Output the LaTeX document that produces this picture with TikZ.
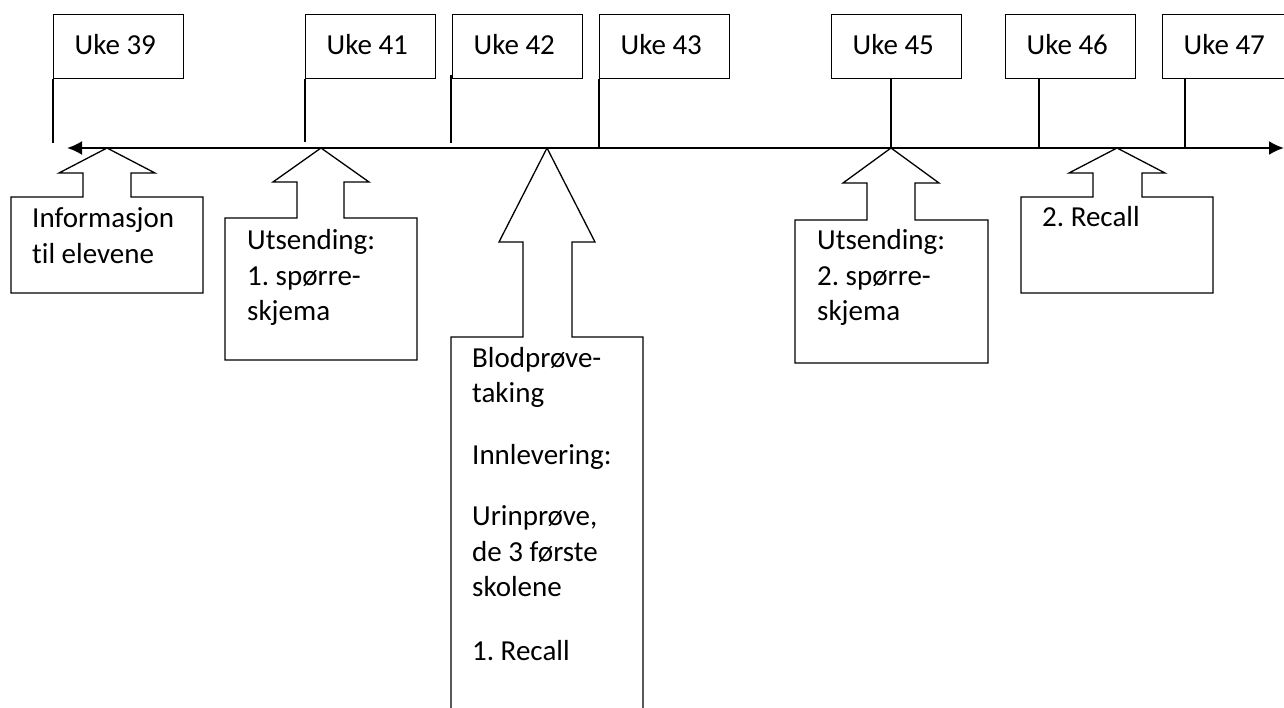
\documentclass[tikz,border=0pt]{standalone}
\usepackage{fontspec}
\setmainfont{Carlito}[Ligatures=NoCommon]
\frenchspacing
\usetikzlibrary{arrows.meta}
\newcommand{\myfont}[1]{\fontsize{29}{#1}\selectfont\frenchspacing}
\newcommand{\fixspace}{\spaceskip=0.226em\relax\xspaceskip=0.226em\relax}
\tikzset{
  ukebox/.style={draw, line width=1.3pt, anchor=north west, minimum height=64pt,
    text width=88pt, inner xsep=21pt, inner ysep=0pt, text height=19pt, text depth=4pt,
    font=\myfont{35}, align=left, execute at begin node=\fixspace},
  tick/.style={line width=1.3pt},
  callout/.style={draw, line width=1.3pt, fill=white, line join=miter},
  ctext/.style={anchor=base west, inner sep=0pt, text width=165pt, align=left,
    font=\myfont{35.5}, execute at begin node=\fixspace},
  axis/.style={line width=2.2pt, {Latex[length=15pt,width=14pt]}-{Latex[length=15pt,width=14pt]}}
}
\begin{document}
\begin{tikzpicture}[x=1pt,y=-1pt]
\useasboundingbox (0,0) rectangle (1284,708);
\clip (0,0) rectangle (1284,708);
% week boxes
\node[ukebox] (u39) at (53,14) {Uke 39};
\node[ukebox] (u41) at (305,14) {Uke 41};
\node[ukebox] (u42) at (452,14) {Uke 42};
\node[ukebox] (u43) at (599,14) {Uke 43};
\node[ukebox] (u45) at (831,14) {Uke 45};
\node[ukebox] (u46) at (1005,14) {Uke 46};
\node[ukebox] (u47) at (1162,14) {Uke 47};
% axis coordinates
\coordinate (aL) at (67,148);
\coordinate (aR) at (1284,148);
% ticks
\draw[tick] (u39.south west) -- (53,143);
\draw[tick] (u41.south west) -- (305,142);
\draw[tick] (451,75) -- (451,143);
\draw[tick] (u43.south west) -- (599,148);
\draw[tick] (891,78) -- (891,148);
\draw[tick] (1039,78) -- (1039,148);
\draw[tick] (1185,78) -- (1185,148);
% callouts
\draw[callout] (11,197) -- (83,197) -- (83,173) -- (59,173) -- (107,148) -- (155,173) -- (131,173) -- (131,197) -- (203,197) -- (203,293) -- (11,293) -- cycle;
\draw[callout] (225,218) -- (297,218) -- (297,182) -- (273,182) -- (321,148) -- (369,182) -- (344,182) -- (344,218) -- (417,218) -- (417,360) -- (225,360) -- cycle;
\draw[callout] (451,337) -- (523,337) -- (523,242) -- (499,242) -- (547,148) -- (595,242) -- (572,242) -- (572,337) -- (643,337) -- (643,730) -- (451,730) -- cycle;
\draw[callout] (795,220) -- (867,220) -- (867,183) -- (843,183) -- (891,148) -- (939,183) -- (915,183) -- (915,220) -- (988,220) -- (988,363) -- (795,363) -- cycle;
\draw[callout] (1021,197) -- (1093,197) -- (1093,173) -- (1069,173) -- (1117,148) -- (1165,173) -- (1142,173) -- (1142,197) -- (1213,197) -- (1213,293) -- (1021,293) -- cycle;
% axis
\draw[axis] (aL) -- (aR);
% texts
\node[ctext] (t1) at (32,228) {Informasjon\\til elevene};
\node[ctext] (t2) at (247,250) {Utsending:\\1. spørre-\\skjema};
\node[ctext] (t3) at (472,367) {Blodprøve-\\taking\\[26pt]Innlevering:\\[26pt]Urinprøve,\\de 3 første\\skolene\\[28pt]1. Recall};
\node[ctext] (t4) at (817,250) {Utsending:\\2. spørre-\\skjema};
\node[ctext] (t5) at (1042,227) {2. Recall};
\end{tikzpicture}
\end{document}
